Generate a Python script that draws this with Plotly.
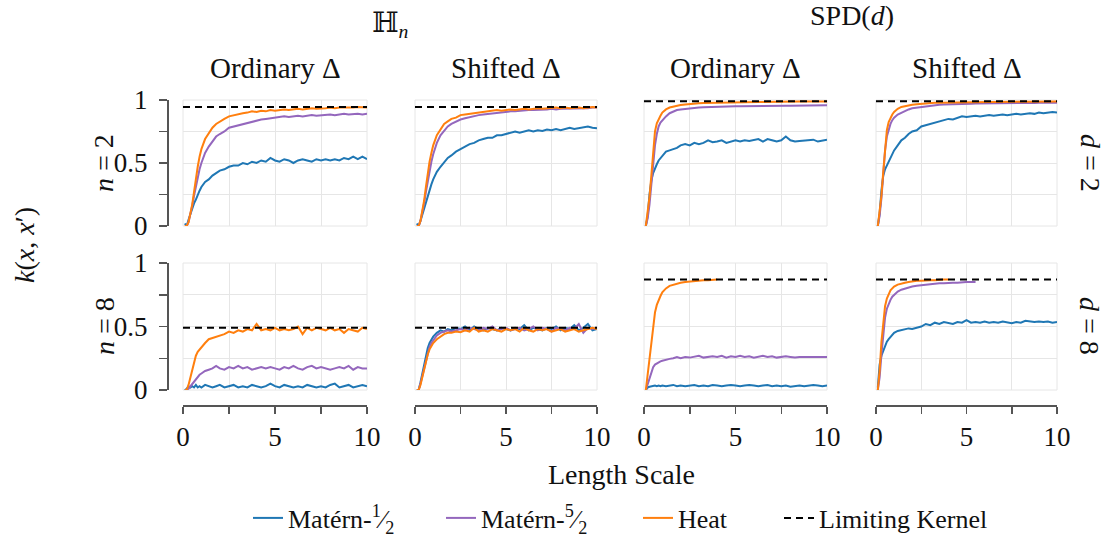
import plotly.graph_objects as go

# ---------------- data ----------------
X = [0.1, 0.2, 0.3, 0.4, 0.5, 0.6, 0.7, 0.8, 0.9, 1.0, 1.2, 1.4, 1.6, 1.8,
     2.0, 2.25, 2.5, 2.75, 3.0, 3.25, 3.5, 3.75, 4.0, 4.25, 4.5, 4.75, 5.0,
     5.25, 5.5, 5.75, 6.0, 6.25, 6.5, 6.75, 7.0, 7.25, 7.5, 7.75, 8.0, 8.25,
     8.5, 8.75, 9.0, 9.25, 9.5, 9.75, 10.0]

series_names = ["Matérn-<sup>1</sup>⁄<sub>2</sub>", "Matérn-<sup>5</sup>⁄<sub>2</sub>", "Heat"]
limit_name = "Limiting Kernel"
col_titles = ["Ordinary Δ", "Shifted Δ", "Ordinary Δ", "Shifted Δ"]
x_major = [0, 5, 10]
x_minor = [2.5, 7.5]
y_major = [0, 0.5, 1]
y_minor = [0.25, 0.75]

# panel 1: H_n, n=2, ordinary
p1_m12 = [0.02, 0.0, 0.05, 0.10, 0.14, 0.18, 0.21, 0.25, 0.28, 0.31, 0.35, 0.37, 0.40, 0.42,
          0.44, 0.45, 0.47, 0.48, 0.48, 0.50, 0.49, 0.51, 0.50, 0.52, 0.51, 0.54, 0.52,
          0.51, 0.53, 0.52, 0.50, 0.52, 0.53, 0.52, 0.51, 0.53, 0.52, 0.53, 0.52, 0.53,
          0.52, 0.54, 0.53, 0.55, 0.53, 0.55, 0.53]
p1_m52 = [0.0, 0.0, 0.03, 0.09, 0.16, 0.24, 0.32, 0.39, 0.45, 0.50, 0.58, 0.63, 0.67, 0.71,
          0.73, 0.75, 0.78, 0.79, 0.80, 0.81, 0.82, 0.83, 0.84, 0.845, 0.85, 0.855, 0.86,
          0.865, 0.87, 0.865, 0.87, 0.875, 0.87, 0.875, 0.88, 0.875, 0.88, 0.88, 0.885, 0.88,
          0.885, 0.89, 0.885, 0.89, 0.89, 0.885, 0.89]
p1_heat = [0.0, 0.0, 0.03, 0.10, 0.17, 0.27, 0.38, 0.47, 0.55, 0.61, 0.69, 0.74, 0.78, 0.81,
           0.83, 0.85, 0.87, 0.88, 0.89, 0.895, 0.90, 0.91, 0.905, 0.915, 0.91, 0.92, 0.915,
           0.92, 0.925, 0.92, 0.925, 0.93, 0.925, 0.93, 0.935, 0.93, 0.93, 0.935, 0.94, 0.935,
           0.94, 0.94, 0.935, 0.94, 0.945, 0.94, 0.94]

# panel 2: H_n, n=2, shifted
p2_m12 = [0.02, 0.0, 0.04, 0.09, 0.15, 0.20, 0.25, 0.29, 0.33, 0.37, 0.43, 0.47, 0.51, 0.54,
          0.56, 0.59, 0.61, 0.63, 0.65, 0.66, 0.68, 0.69, 0.70, 0.70, 0.72, 0.72, 0.73,
          0.74, 0.75, 0.74, 0.75, 0.76, 0.75, 0.76, 0.755, 0.765, 0.76, 0.77, 0.76, 0.77,
          0.78, 0.77, 0.775, 0.78, 0.79, 0.78, 0.775]
p2_m52 = [0.0, 0.0, 0.04, 0.10, 0.18, 0.27, 0.36, 0.44, 0.51, 0.57, 0.66, 0.72, 0.76, 0.79,
          0.81, 0.83, 0.845, 0.855, 0.865, 0.87, 0.88, 0.885, 0.89, 0.895, 0.90, 0.90, 0.905,
          0.91, 0.91, 0.915, 0.915, 0.92, 0.92, 0.92, 0.925, 0.925, 0.93, 0.925, 0.93, 0.93,
          0.935, 0.93, 0.935, 0.935, 0.935, 0.94, 0.94]
p2_heat = [0.0, 0.0, 0.04, 0.11, 0.20, 0.31, 0.42, 0.51, 0.58, 0.64, 0.72, 0.77, 0.81, 0.83,
           0.85, 0.86, 0.88, 0.885, 0.89, 0.90, 0.905, 0.91, 0.91, 0.915, 0.92, 0.915, 0.92,
           0.925, 0.92, 0.925, 0.93, 0.925, 0.93, 0.935, 0.93, 0.935, 0.935, 0.94, 0.935, 0.94,
           0.935, 0.94, 0.94, 0.935, 0.94, 0.945, 0.94]

# panel 3: SPD(d), d=2, ordinary
p3_m12 = [0.0, 0.08, 0.25, 0.36, 0.42, 0.46, 0.49, 0.52, 0.54, 0.55, 0.59, 0.60, 0.61, 0.62,
          0.64, 0.65, 0.64, 0.66, 0.65, 0.66, 0.68, 0.665, 0.67, 0.68, 0.66, 0.67, 0.68,
          0.67, 0.68, 0.675, 0.68, 0.69, 0.67, 0.69, 0.68, 0.67, 0.68, 0.71, 0.68, 0.67,
          0.675, 0.68, 0.68, 0.685, 0.67, 0.68, 0.685]
p3_m52 = [0.0, 0.06, 0.17, 0.33, 0.49, 0.64, 0.73, 0.79, 0.82, 0.84, 0.87, 0.895, 0.91, 0.92,
          0.925, 0.93, 0.935, 0.937, 0.94, 0.942, 0.944, 0.945, 0.946, 0.947, 0.948, 0.949, 0.95,
          0.95, 0.951, 0.951, 0.952, 0.952, 0.953, 0.953, 0.954, 0.954, 0.955, 0.955, 0.955, 0.956,
          0.956, 0.956, 0.957, 0.957, 0.957, 0.958, 0.958]
p3_heat = [0.0, 0.10, 0.23, 0.40, 0.61, 0.75, 0.815, 0.85, 0.875, 0.90, 0.925, 0.94, 0.948, 0.955,
           0.96, 0.965, 0.97, 0.972, 0.975, 0.977, 0.978, 0.98, 0.98, 0.981, 0.982, 0.982, 0.983,
           0.983, 0.984, 0.984, 0.985, 0.985, 0.985, 0.986, 0.986, 0.986, 0.987, 0.987, 0.987, 0.987,
           0.988, 0.988, 0.988, 0.988, 0.988, 0.989, 0.989]

# panel 4: SPD(d), d=2, shifted
p4_m12 = [0.0, 0.10, 0.28, 0.40, 0.45, 0.48, 0.51, 0.55, 0.57, 0.60, 0.64, 0.68, 0.70, 0.73,
          0.75, 0.76, 0.79, 0.80, 0.81, 0.82, 0.83, 0.84, 0.85, 0.845, 0.86, 0.87, 0.865,
          0.87, 0.875, 0.87, 0.875, 0.88, 0.875, 0.88, 0.885, 0.88, 0.885, 0.89, 0.885, 0.89,
          0.895, 0.89, 0.90, 0.895, 0.90, 0.905, 0.90]
p4_m52 = [0.0, 0.08, 0.22, 0.42, 0.60, 0.71, 0.77, 0.81, 0.84, 0.86, 0.885, 0.90, 0.915, 0.925,
          0.935, 0.94, 0.947, 0.952, 0.956, 0.959, 0.962, 0.964, 0.966, 0.967, 0.968, 0.969, 0.97,
          0.971, 0.972, 0.972, 0.973, 0.973, 0.974, 0.974, 0.975, 0.975, 0.976, 0.976, 0.976, 0.977,
          0.977, 0.977, 0.978, 0.978, 0.978, 0.978, 0.979]
p4_heat = [0.0, 0.10, 0.24, 0.43, 0.63, 0.76, 0.825, 0.86, 0.885, 0.905, 0.93, 0.945, 0.952, 0.958,
           0.962, 0.967, 0.971, 0.974, 0.976, 0.978, 0.979, 0.98, 0.981, 0.982, 0.982, 0.983, 0.983,
           0.984, 0.984, 0.984, 0.985, 0.985, 0.985, 0.986, 0.986, 0.986, 0.986, 0.987, 0.987, 0.987,
           0.987, 0.987, 0.988, 0.988, 0.988, 0.988, 0.988]

# panel 5: H_n, n=8, ordinary
p5_m12 = [0.0, 0.01, 0.03, 0.02, 0.03, 0.02, 0.04, 0.02, 0.03, 0.02, 0.04, 0.03, 0.02, 0.03,
          0.04, 0.02, 0.03, 0.04, 0.02, 0.03, 0.02, 0.04, 0.03, 0.02, 0.03, 0.05, 0.03,
          0.02, 0.04, 0.03, 0.02, 0.03, 0.02, 0.04, 0.03, 0.02, 0.03, 0.02, 0.04, 0.05,
          0.02, 0.03, 0.04, 0.02, 0.03, 0.04, 0.03]
p5_m52 = [0.0, 0.0, 0.01, 0.03, 0.05, 0.07, 0.08, 0.10, 0.12, 0.13, 0.15, 0.16, 0.17, 0.19,
          0.17, 0.16, 0.18, 0.17, 0.19, 0.17, 0.18, 0.16, 0.17, 0.18, 0.17, 0.18, 0.17,
          0.16, 0.18, 0.17, 0.19, 0.17, 0.16, 0.18, 0.19, 0.17, 0.18, 0.17, 0.16, 0.17,
          0.18, 0.17, 0.19, 0.16, 0.18, 0.17, 0.17]
p5_heat = [0.0, 0.0, 0.04, 0.10, 0.17, 0.23, 0.27, 0.30, 0.32, 0.34, 0.37, 0.40, 0.41, 0.42,
           0.43, 0.44, 0.46, 0.45, 0.47, 0.46, 0.48, 0.47, 0.52, 0.47, 0.48, 0.47, 0.49,
           0.47, 0.48, 0.47, 0.48, 0.50, 0.44, 0.49, 0.47, 0.49, 0.48, 0.47, 0.49, 0.47,
           0.48, 0.45, 0.48, 0.47, 0.46, 0.49, 0.48]

# panel 6: H_n, n=8, shifted
p6_m12 = [0.0, 0.0, 0.06, 0.13, 0.20, 0.27, 0.33, 0.37, 0.40, 0.42, 0.45, 0.47, 0.46, 0.48,
          0.47, 0.49, 0.48, 0.50, 0.47, 0.50, 0.48, 0.47, 0.49, 0.48, 0.47, 0.49, 0.48,
          0.47, 0.49, 0.48, 0.51, 0.47, 0.49, 0.48, 0.47, 0.49, 0.48, 0.50, 0.47, 0.49,
          0.48, 0.51, 0.47, 0.49, 0.52, 0.47, 0.48]
p6_m52 = [0.0, 0.0, 0.05, 0.11, 0.18, 0.24, 0.30, 0.34, 0.37, 0.39, 0.43, 0.45, 0.46, 0.47,
          0.46, 0.47, 0.48, 0.47, 0.49, 0.48, 0.47, 0.49, 0.48, 0.50, 0.47, 0.48, 0.49,
          0.47, 0.48, 0.49, 0.47, 0.48, 0.50, 0.47, 0.49, 0.48, 0.46, 0.49, 0.48, 0.47,
          0.49, 0.48, 0.52, 0.45, 0.49, 0.48, 0.49]
p6_heat = [0.0, 0.0, 0.04, 0.10, 0.17, 0.23, 0.28, 0.32, 0.35, 0.37, 0.40, 0.42, 0.44, 0.45,
           0.45, 0.46, 0.455, 0.47, 0.46, 0.49, 0.46, 0.47, 0.46, 0.48, 0.47, 0.46, 0.48,
           0.47, 0.48, 0.46, 0.49, 0.47, 0.46, 0.48, 0.47, 0.48, 0.46, 0.47, 0.48, 0.46,
           0.47, 0.48, 0.46, 0.47, 0.48, 0.49, 0.48]

# panel 7: SPD(d), d=8, ordinary
p7_m12 = [0.0, 0.02, 0.025, 0.03, 0.03, 0.035, 0.03, 0.035, 0.03, 0.035, 0.03, 0.035, 0.04, 0.03,
          0.035, 0.03, 0.035, 0.04, 0.03, 0.035, 0.03, 0.04, 0.035, 0.03, 0.035, 0.04, 0.035,
          0.03, 0.035, 0.04, 0.035, 0.03, 0.035, 0.04, 0.03, 0.035, 0.03, 0.035, 0.025, 0.03,
          0.035, 0.03, 0.035, 0.04, 0.035, 0.03, 0.035]
p7_m52 = [0.0, 0.05, 0.10, 0.15, 0.18, 0.20, 0.21, 0.22, 0.225, 0.23, 0.24, 0.245, 0.25, 0.26,
          0.25, 0.26, 0.255, 0.26, 0.27, 0.255, 0.26, 0.265, 0.26, 0.27, 0.255, 0.265, 0.26,
          0.27, 0.26, 0.265, 0.255, 0.26, 0.27, 0.26, 0.265, 0.255, 0.26, 0.265, 0.26, 0.255,
          0.26, 0.26, 0.255, 0.26, 0.26, 0.255, 0.26]
p7_heat = [0.0, 0.12, 0.25, 0.40, 0.52, 0.61, 0.67, 0.71, 0.74, 0.77, 0.80, 0.82, 0.83, 0.84,
           0.845, 0.85, 0.855, 0.86, 0.86, 0.865, 0.865, 0.87, 0.87]

# panel 8: SPD(d), d=8, shifted
p8_m12 = [0.02, 0.20, 0.27, 0.31, 0.35, 0.38, 0.40, 0.42, 0.44, 0.45, 0.465, 0.47, 0.475, 0.485,
          0.48, 0.49, 0.50, 0.52, 0.51, 0.53, 0.52, 0.535, 0.53, 0.52, 0.535, 0.53, 0.55,
          0.53, 0.535, 0.53, 0.54, 0.53, 0.535, 0.53, 0.54, 0.53, 0.525, 0.535, 0.53, 0.545,
          0.54, 0.535, 0.54, 0.535, 0.54, 0.53, 0.535]
p8_m52 = [0.0, 0.10, 0.28, 0.45, 0.57, 0.64, 0.68, 0.71, 0.735, 0.75, 0.775, 0.79, 0.80, 0.81,
          0.815, 0.82, 0.825, 0.83, 0.835, 0.835, 0.84, 0.84, 0.845, 0.845, 0.845, 0.85, 0.85,
          0.85, 0.85]
p8_heat = [0.0, 0.15, 0.38, 0.55, 0.66, 0.72, 0.76, 0.785, 0.80, 0.815, 0.83, 0.84, 0.845, 0.85,
           0.855, 0.86, 0.86, 0.865, 0.865, 0.865, 0.87, 0.87, 0.87]

limits = [0.945, 0.945, 0.99, 0.99, 0.49, 0.49, 0.87, 0.87]
limit_x = [0, 10]

panels = [
    (p1_m12, p1_m52, p1_heat), (p2_m12, p2_m52, p2_heat),
    (p3_m12, p3_m52, p3_heat), (p4_m12, p4_m52, p4_heat),
    (p5_m12, p5_m52, p5_heat), (p6_m12, p6_m52, p6_heat),
    (p7_m12, p7_m52, p7_heat), (p8_m12, p8_m52, p8_heat),
]

# ---------------- styling ----------------
W, H = 1107, 538
colors = ["#1f77b4", "#9467bd", "#ff7f0e"]
FONT = "Liberation Serif, DejaVu Serif, serif"
grid_c = "#e6e6e6"
spine_c = "#555555"
txt_c = "#111111"

col_px = [(183, 367), (415, 597), (644, 827), (876, 1057)]
row_px = [(100, 226), (263, 390)]
legend_px = [248, 441, 638, 779]  # left position of each legend entry


def px_x(p):
    return p / W


def px_y(p):
    return 1 - p / H


legend_keys = ["legend", "legend2", "legend3", "legend4"]

fig = go.Figure()
layout = {}
shapes = []
for i, ser in enumerate(panels):
    r, c = divmod(i, 4)
    k = i + 1
    xa = "x" if k == 1 else f"x{k}"
    ya = "y" if k == 1 else f"y{k}"
    for s, vals in enumerate(ser):
        fig.add_trace(go.Scatter(
            x=X[:len(vals)], y=vals, mode="lines", xaxis=xa, yaxis=ya,
            line=dict(color=colors[s], width=2), name=series_names[s],
            legend=legend_keys[s], showlegend=(i == 0)))
    fig.add_trace(go.Scatter(
        x=limit_x, y=[limits[i], limits[i]], mode="lines", xaxis=xa, yaxis=ya,
        line=dict(color="black", width=2, dash="7px,5px"), name=limit_name,
        legend=legend_keys[3], showlegend=(i == 0)))

    xd = [px_x(col_px[c][0]), px_x(col_px[c][1])]
    yd = [px_y(row_px[r][1]), px_y(row_px[r][0])]
    xkey = "xaxis" if k == 1 else f"xaxis{k}"
    ykey = "yaxis" if k == 1 else f"yaxis{k}"
    xax = dict(domain=xd, range=[0, 10], tickmode="array", tickvals=x_major, showgrid=True,
               gridcolor=grid_c, gridwidth=1, zeroline=False, fixedrange=True)
    if r == 1:
        xax.update(anchor="free", position=px_y(405), showline=True, linecolor=spine_c,
                   linewidth=1.5, ticks="outside", ticklen=7, tickwidth=1.5, tickcolor=spine_c,
                   showticklabels=True,
                   tickfont=dict(family=FONT, size=27, color=txt_c), ticklabelstandoff=0,
                   minor=dict(tickmode="array", tickvals=x_minor, ticks="outside", ticklen=7,
                              tickwidth=1.5, tickcolor=spine_c, showgrid=True,
                              gridcolor=grid_c, gridwidth=1))
    else:
        xax.update(anchor=ya, showline=False, ticks="", showticklabels=False,
                   minor=dict(tickmode="array", tickvals=x_minor, ticks="", showgrid=True,
                              gridcolor=grid_c, gridwidth=1))
    yax = dict(domain=yd, range=[0, 1], tickmode="array", tickvals=y_major, showgrid=True,
               gridcolor=grid_c, gridwidth=1, zeroline=False, fixedrange=True)
    if c == 0:
        yax.update(anchor="free", position=px_x(167), showline=True, linecolor=spine_c,
                   linewidth=1.5, ticks="outside", ticklen=8, tickwidth=1.5, tickcolor=spine_c,
                   showticklabels=True,
                   tickfont=dict(family=FONT, size=27, color=txt_c), ticklabelstandoff=6,
                   minor=dict(tickmode="array", tickvals=y_minor, ticks="outside", ticklen=8,
                              tickwidth=1.5, tickcolor=spine_c, showgrid=True,
                              gridcolor=grid_c, gridwidth=1))
    else:
        yax.update(anchor=xa, showline=False, ticks="", showticklabels=False,
                   minor=dict(tickmode="array", tickvals=y_minor, ticks="", showgrid=True,
                              gridcolor=grid_c, gridwidth=1))
    layout[xkey] = xax
    layout[ykey] = yax
    # light frame around each panel
    shapes.append(dict(type="rect", xref=f"{xa} domain", yref=f"{ya} domain",
                       x0=0, x1=1, y0=0, y1=1, line=dict(color=grid_c, width=1),
                       layer="below"))

for j, key in enumerate(legend_keys):
    layout[key] = dict(orientation="h", x=px_x(legend_px[j]), xanchor="left",
                       y=px_y(518), yanchor="middle",
                       font=dict(family=FONT, size=26, color=txt_c),
                       bgcolor="rgba(0,0,0,0)")

annotations = []


def ann(text, x, y, size=28, angle=0, xanchor="center", yanchor="middle"):
    annotations.append(dict(text=text, x=px_x(x), y=px_y(y), xref="paper", yref="paper",
                            showarrow=False, textangle=angle, xanchor=xanchor, yanchor=yanchor,
                            font=dict(family=FONT, size=size, color=txt_c)))


ann("ℍ<sub><i>n</i></sub>", 390, 25)
ann("SPD(<i>d</i>)", 852, 16)
for c, t in enumerate(col_titles):
    ann(t, (col_px[c][0] + col_px[c][1]) / 2, 68, size=29)
ann("<i>n</i> = 2", 104, 163, angle=-90)
ann("<i>n</i> = 8", 104, 326, angle=-90)
ann("<i>d</i> = 2", 1090, 163, angle=90)
ann("<i>d</i> = 8", 1090, 326, angle=90)
ann("<i>k</i>(<i>x</i>, <i>x</i>′)", 24, 245, angle=-90)
ann("Length Scale", 621, 474)

fig.update_layout(
    width=W, height=H, margin=dict(l=0, r=0, t=0, b=0, autoexpand=False),
    paper_bgcolor="white", plot_bgcolor="white",
    showlegend=True,
    annotations=annotations,
    shapes=shapes,
    **layout,
)

fig.write_html("out.html", config={"displayModeBar": False, "staticPlot": True},
               post_script="document.body.style.margin='0';document.body.style.padding='0';")
